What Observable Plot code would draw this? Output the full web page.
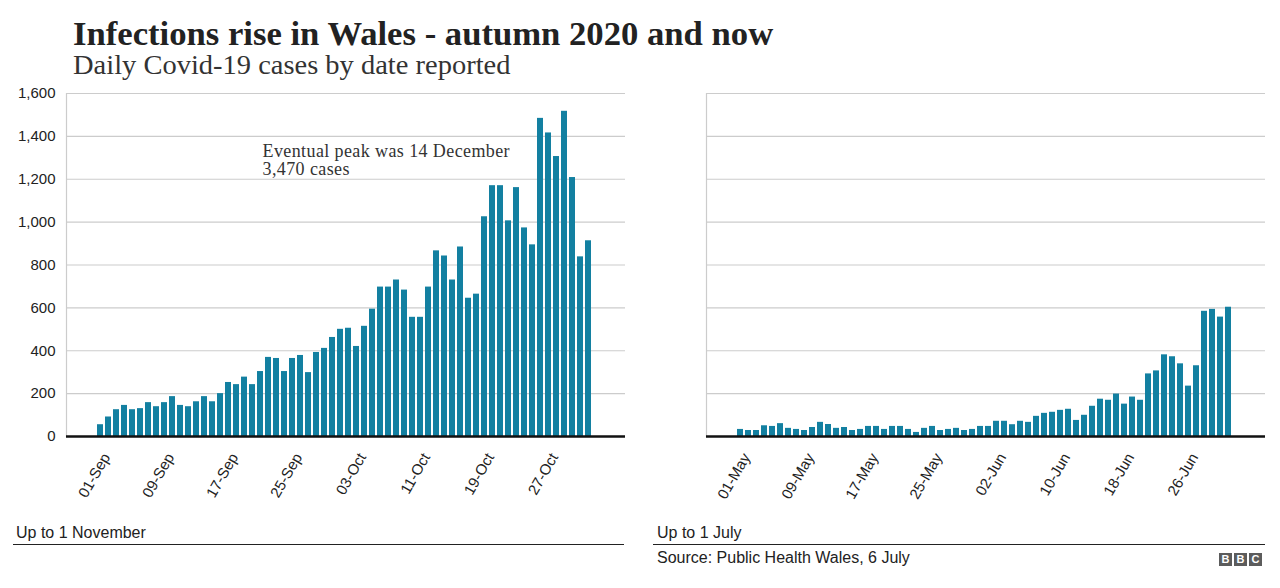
<!DOCTYPE html>
<html>
<head>
<meta charset="utf-8">
<script src="https://cdn.jsdelivr.net/npm/d3@7"></script>
<script src="https://cdn.jsdelivr.net/npm/@observablehq/plot@0.6"></script>
<style>
  html, body { margin: 0; padding: 0; background: #fff; }
  body { width: 1280px; height: 588px; position: relative; overflow: hidden; font-family: "Liberation Sans", Arial, sans-serif; color: #222; }
  .abs { position: absolute; white-space: nowrap; }
  #title { left: 73px; top: 19px; font-family: "Liberation Serif", serif; font-weight: bold; font-size: 33px; line-height: 30px; color: #222; transform: scaleX(1.05); transform-origin: left top; }
  #subtitle { left: 73px; top: 53px; font-family: "Liberation Serif", serif; font-size: 27px; line-height: 24px; color: #333; transform: scaleX(1.055); transform-origin: left top; }
  .foot { font-size: 16px; line-height: 16px; color: #222; }
  .rule { position: absolute; height: 1px; background: #222; }
  #bbc { left: 1219px; top: 553px; display: flex; gap: 2px; }
  #bbc span { display: block; width: 13px; height: 13px; background: #5c5c5c; color: #fff; font: bold 11px/13px "Liberation Sans", Arial, sans-serif; text-align: center; }
  #left, #right { position: absolute; top: 85px; }
  #left { left: 0; }
  #right { left: 640px; }
</style>
</head>
<body>
<div id="title" class="abs">Infections rise in Wales - autumn 2020 and now</div>
<div id="subtitle" class="abs">Daily Covid-19 cases by date reported</div>
<div id="left"></div>
<div id="right"></div>
<div class="abs foot" style="left:16px; top:525px;">Up to 1 November</div>
<div class="rule" style="left:13px; width:611px; top:544px;"></div>
<div class="abs foot" style="left:657px; top:525px;">Up to 1 July</div>
<div class="rule" style="left:653px; width:612px; top:544px;"></div>
<div class="abs foot" style="left:657px; top:550px;">Source: Public Health Wales, 6 July</div>
<div id="bbc" class="abs"><span>B</span><span>B</span><span>C</span></div>
<script>
// ---- data ----
const leftStart = new Date(Date.UTC(2020, 8, 1));   // 01-Sep-2020
const leftEnd = new Date(Date.UTC(2020, 10, 2));    // through 01-Nov
const rightStart = new Date(Date.UTC(2021, 4, 1));  // 01-May-2021
const rightEnd = new Date(Date.UTC(2021, 6, 2));    // through 01-Jul

const leftValues = [55,91,125,145,125,130,158,139,158,186,
  145,139,162,186,162,200,252,242,277,242,
  303,369,364,303,364,378,298,392,411,462,
  500,505,420,514,594,697,697,730,683,556,
  556,697,866,842,730,884,645,664,1025,1170,
  1170,1006,1161,973,894,1484,1416,1306,1517,1208,
  838,913];
const rightValues = [33,28,28,50,47,60,38,33,28,42,
  66,56,38,42,28,33,47,47,33,47,
  47,33,19,38,47,28,33,38,28,33,
  47,47,71,71,55,71,66,94,108,113,
  122,127,75,99,141,174,169,198,151,184,
  169,292,306,381,372,339,235,330,584,593,
  557,603];

const leftTicks = ["01-Sep","09-Sep","17-Sep","25-Sep","03-Oct","11-Oct","19-Oct","27-Oct"];
const rightTicks = ["01-May","09-May","17-May","25-May","02-Jun","10-Jun","18-Jun","26-Jun"];
const yTicks = [0,200,400,600,800,1000,1200,1400,1600];

const annotDate = ["21-Sep"];
const annotValue = [1364];
const annotText = ["Eventual peak was 14 December\n3,470 cases"];

// ---- build ----
const fmt = d3.utcFormat("%d-%b");
const leftLabels = d3.utcDay.range(leftStart, leftEnd).map(fmt);
const rightLabels = d3.utcDay.range(rightStart, rightEnd).map(fmt);

function chart(labels, values, ticks, showY, annotations) {
  const data = labels.map((d, i) => ({date: d, cases: values[i]}));
  const marks = [
    Plot.ruleY(yTicks, {stroke: "#cccccc", strokeWidth: 1.2}),
    Plot.frame({anchor: "left", stroke: "#cccccc", strokeWidth: 1.2}),
    Plot.barY(data, {x: "date", y: "cases", fill: "#1380A1"}),
    Plot.ruleY([0], {stroke: "#111", strokeWidth: 2.5}),
    Plot.axisX(ticks, {anchor: "bottom", tickSize: 0, tickPadding: 18, tickRotate: -60, label: null, fontSize: 15, dx: 6, fill: "#222"})
  ];
  if (showY) {
    marks.push(Plot.axisY(yTicks, {anchor: "left", tickSize: 0, tickPadding: 11, tickFormat: d3.format(","), label: null, fontSize: 15, fill: "#222"}));
  }
  if (annotations) {
    marks.push(Plot.text(annotations, {x: "date", y: "value", text: "text", textAnchor: "start", lineAnchor: "top", dx: 2, fontSize: 18, lineHeight: 1, fill: "#333", fontFamily: "'Liberation Serif', serif", className: "annot"}));
  }
  return Plot.plot({
    width: 640,
    height: 430,
    marginLeft: 66,
    marginRight: 15,
    marginTop: 8,
    marginBottom: 79,
    style: {fontFamily: "'Liberation Sans', Arial, sans-serif", color: "#222", background: "transparent", overflow: "visible"},
    x: {type: "band", domain: labels, padding: 0.3, insetLeft: 28.3, insetRight: 32.3, axis: null},
    y: {domain: [0, 1600], axis: null},
    marks
  });
}

const annotations = annotDate.map((d, i) => ({date: d, value: annotValue[i], text: annotText[i]}));
const leftSvg = chart(leftLabels, leftValues, leftTicks, true, annotations);
document.getElementById("left").append(leftSvg);
leftSvg.querySelectorAll(".annot text, g.annot text").forEach(t => t.style.letterSpacing = "0.4px");
document.getElementById("right").append(chart(rightLabels, rightValues, rightTicks, false, null));
</script>
</body>
</html>
